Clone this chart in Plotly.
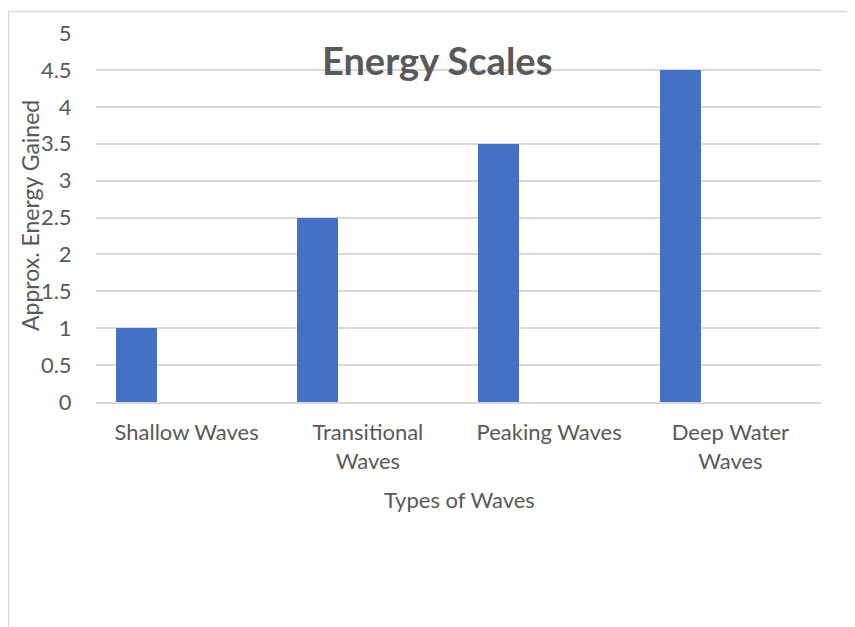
import plotly.graph_objects as go

categories = ["Shallow Waves", "Transitional<br>Waves", "Peaking Waves", "Deep Water<br>Waves"]
energy = [1, 2.5, 3.5, 4.5]
y_ticks = [0, 0.5, 1, 1.5, 2, 2.5, 3, 3.5, 4, 4.5, 5]
y_tick_text = ["0", "0.5", "1", "1.5", "2", "2.5", "3", "3.5", "4", "4.5", "5"]
title_text = "Energy Scales"
x_title = "Types of Waves"
y_title = "Approx. Energy Gained"

# the page adds an 8px body margin; work in screen pixels and convert
OFF = 8
W, H = 855, 627
PL, PR, PT, PB = 96, 821, 33, 402  # plot area in screen pixels
ML = PL - OFF
MT = PT - OFF
MR = W - (PR - OFF)
MB = H - (PB - OFF)
pw = PR - PL
ph = PB - PT

def px_x(p):
    return (p - PL) / pw

def px_y(p):
    return (PB - p) / ph

FONT = "Lato"
TXT = "#595959"
GRID = "#D9D9D9"
FS = 22

fig = go.Figure()
fig.add_trace(go.Bar(
    x=categories, y=energy,
    offset=-0.39, width=0.226,
    marker=dict(color="#4471C4", line=dict(width=0)),
    showlegend=False,
))

fig.update_layout(
    width=W, height=H,
    margin=dict(l=ML, r=MR, t=MT, b=MB),
    paper_bgcolor="white", plot_bgcolor="white",
    font=dict(family=FONT, color=TXT, size=FS),
    xaxis=dict(
        showgrid=False, showline=True, linecolor=GRID, linewidth=1.5,
        ticks="outside", ticklen=10, tickcolor="rgba(0,0,0,0)",
        tickfont=dict(size=FS, color=TXT),
        zeroline=False,
    ),
    yaxis=dict(
        range=[0, 5], tickvals=y_ticks, ticktext=y_tick_text,
        showgrid=True, gridcolor=GRID, gridwidth=1.5,
        zeroline=False, showline=False,
        ticks="outside", ticklen=19, tickcolor="rgba(0,0,0,0)",
        tickfont=dict(size=FS, color=TXT),
    ),
    bargap=0,
    annotations=[
        dict(text="<b>" + title_text + "</b>", xref="paper", yref="paper",
             x=px_x(437), y=px_y(60), xanchor="center", yanchor="middle",
             showarrow=False, font=dict(size=38, color=TXT, family=FONT)),
        dict(text=x_title, xref="paper", yref="paper",
             x=px_x(459), y=px_y(499), xanchor="center", yanchor="middle",
             showarrow=False, font=dict(size=FS, color=TXT, family=FONT)),
        dict(text=y_title, xref="paper", yref="paper", textangle=-90,
             x=px_x(30), y=px_y(216), xanchor="center", yanchor="middle",
             showarrow=False, font=dict(size=23, color=TXT, family=FONT)),
    ],
    shapes=[
        dict(type="line", xref="paper", yref="paper",
             x0=px_x(8.5), x1=px_x(8.5), y0=px_y(11.5), y1=px_y(660),
             line=dict(color=GRID, width=1.5)),
        dict(type="line", xref="paper", yref="paper",
             x0=px_x(8.5), x1=px_x(880), y0=px_y(11.5), y1=px_y(11.5),
             line=dict(color=GRID, width=1.5)),
    ],
)

fig.write_html("out.html")
